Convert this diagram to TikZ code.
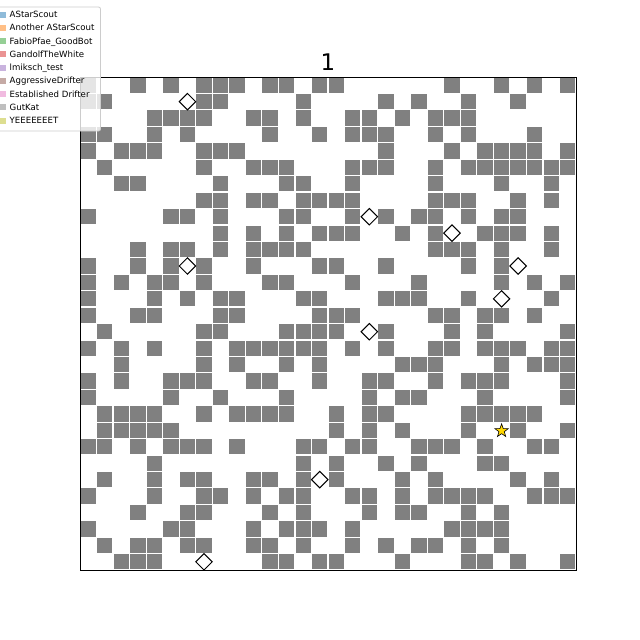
\documentclass[tikz,border=0pt]{standalone}
\usepackage{fontspec}
\setmainfont{DejaVu Sans}
\usetikzlibrary{shapes.geometric}
\definecolor{cellgray}{HTML}{808080}
\definecolor{legframe}{HTML}{CCCCCC}
\definecolor{goldstar}{HTML}{FFD700}
\definecolor{lgA}{RGB}{143,187,217}
\definecolor{lgB}{RGB}{255,191,134}
\definecolor{lgC}{RGB}{149,207,149}
\definecolor{lgD}{RGB}{234,147,147}
\definecolor{lgE}{RGB}{201,179,222}
\definecolor{lgF}{RGB}{197,170,165}
\definecolor{lgG}{RGB}{241,187,224}
\definecolor{lgH}{RGB}{191,191,191}
\definecolor{lgI}{RGB}{221,222,144}
\tikzset{
  cellbox/.style={fill=cellgray},
  botmark/.style={draw=black, fill=white, line width=1pt, line join=miter},
  goalmark/.style={star, star points=5, star point ratio=2.5, minimum size=14pt, inner sep=0pt, fill=goldstar, draw=black, line width=0.6pt},
  legtext/.style={anchor=base west, inner sep=0pt, font=\fontsize{8.6}{10}\selectfont},
}
\begin{document}
\begin{tikzpicture}[x=1pt,y=-1pt]
\useasboundingbox (0,0) rectangle (640,640);
\fill[white] (0,0) rectangle (640,640);
\def\cw{16.5333}
\def\ch{16.4333}
\foreach \r/\cols in {
 0/{0,3,5,7,8,9,11,12,14,15,22,25,27,29},
 1/{0,1,7,8,13,18,20,23,26},
 2/{4,5,6,7,10,11,13,16,17,19,21,22,23},
 3/{0,1,4,6,11,14,16,17,18,21,23,27},
 4/{0,2,3,4,7,8,9,18,22,24,25,26,27,29},
 5/{1,7,10,11,12,16,17,18,21,23,24,25,26,27,28,29},
 6/{2,3,8,12,13,16,21,25,28},
 7/{7,8,10,11,13,14,15,16,21,22,23,26,28},
 8/{0,5,6,8,12,13,16,18,20,21,23,25,26},
 9/{8,10,12,14,15,16,19,21,24,25,26,28},
 10/{3,5,6,8,10,11,12,13,21,22,23,25,28},
 11/{0,3,5,7,10,14,15,18,23,25},
 12/{0,2,4,5,7,11,12,16,20,25,27,29},
 13/{0,4,6,8,9,13,14,18,19,20,23,28},
 14/{0,3,4,8,9,14,15,16,21,22,24,25,27},
 15/{1,7,8,12,13,14,15,18,22,24,29},
 16/{0,2,4,7,9,10,11,12,13,14,16,18,21,22,24,25,26,28,29},
 17/{2,7,9,12,14,19,20,21,25,27,28,29},
 18/{0,2,5,6,7,10,11,14,17,18,21,23,24,25,29},
 19/{0,5,8,12,17,19,20,24,29},
 20/{1,2,3,4,7,9,10,11,12,15,17,18,23,24,25,26,27},
 21/{1,2,3,4,5,15,17,19,23,26,29},
 22/{0,1,3,5,6,7,9,13,14,16,17,20,21,22,24,27,28},
 23/{4,13,15,18,20,24,25},
 24/{1,4,6,7,10,11,13,15,19,21,26,28},
 25/{0,4,7,8,10,12,13,16,17,19,21,22,23,24,27,28,29},
 26/{3,6,7,11,13,17,19,20,23,25},
 27/{0,5,6,10,12,13,14,16,22,23,24,25},
 28/{1,3,4,6,7,10,11,13,16,18,20,21,23,25},
 29/{2,3,4,11,12,14,15,19,23,24,26,29}}{
  \foreach \c in \cols {
    \fill[cellbox] ({80+\c*\cw+0.6},{77+\r*\ch+0.6}) rectangle ({80+(\c+1)*\cw-0.6},{77+(\r+1)*\ch-0.6});
  }
}
% frame
\draw[line width=1pt] (80,77) rectangle (576,570);
% bots (diamonds)
\foreach \c/\r in {6/1,17/8,22/9,6/11,26/11,25/13,17/15,14/24,7/29}{
  \pgfmathsetmacro\px{80+(\c+0.5)*\cw}
  \pgfmathsetmacro\py{77+(\r+0.5)*\ch}
  \draw[botmark] (\px,\py-8.2) -- (\px+8.2,\py) -- (\px,\py+8.2) -- (\px-8.2,\py) -- cycle;
}
% goal star
\node[goalmark] (goal) at ({80+25.5*\cw},{77+21.5*\ch+0.5}) {};
% title
\node[anchor=base, inner sep=0pt, font=\fontsize{22.9}{26}\selectfont] (title) at (328,70) {1};
% legend
\filldraw[fill=white, fill opacity=0.8, draw=legframe, line width=0.8pt, rounded corners=2pt] (-4,7) rectangle (100.5,131);
\foreach \i/\col/\txt in {0/lgA/AStarScout,1/lgB/Another AStarScout,2/lgC/FabioPfae\_GoodBot,3/lgD/GandolfTheWhite,4/lgE/lmiksch\_test,5/lgF/AggressiveDrifter,6/lgG/Established Drifter,7/lgH/GutKat,8/lgI/YEEEEEEET}{
  \pgfmathsetmacro\ly{14.7+\i*13.25}
  \fill[\col] (-14,\ly-3) rectangle (6,\ly+3);
  \node[legtext] (leg\i) at (9.5,\ly+3) {\txt};
}
\end{tikzpicture}
\end{document}
